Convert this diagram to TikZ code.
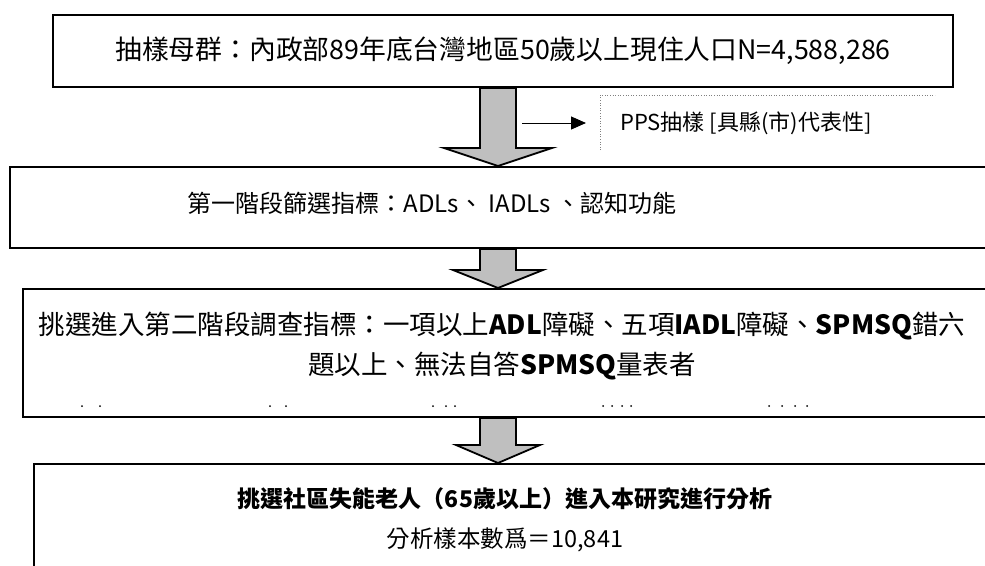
\documentclass[tikz,border=0pt]{standalone}
\usepackage{fontspec}
\setmainfont{Liberation Sans}
\newfontfamily\cjk{Noto Sans CJK TC}
\usetikzlibrary{arrows.meta, positioning, calc}

\newcommand{\fatdown}[5]{%
  \draw[fatarrow] let \p1=(#1.south), \p2=(#2.north) in
    (498pt-#3,\y1) -- (498pt-#3,\y2+#5) -- (498pt-#4,\y2+#5) -- (498pt,\y2)
    -- (498pt+#4,\y2+#5) -- (498pt+#3,\y2+#5) -- (498pt+#3,\y1) -- cycle;}

\begin{document}
\begin{tikzpicture}[
  x=1pt, y=-1pt,
  stage/.style={draw=black, line width=2pt, anchor=north west, inner sep=0pt, align=center},
  stagetext/.style={inner sep=0pt, align=center},
  fatarrow/.style={draw=black, line width=1.8pt, fill=gray!50, line join=miter},
  >={Triangle[length=15pt,width=13pt]}
]
\useasboundingbox (0,0) rectangle (985,565);
\clip (0,0) rectangle (985,565);
\fill[white] (0,0) rectangle (985,565);

\node[stage, minimum width=900pt, minimum height=72pt, font={\cjk\fontsize{26.8pt}{30pt}\selectfont}] (Population) at (52,14)
  {抽樣母群：內政部89年底台灣地區50歲以上現住人口N=4,588,286};
\node[stage, minimum width=1000pt, minimum height=81pt] (Screen) at (9,166) {};
\node[stagetext, font={\cjk\fontsize{24pt}{30pt}\selectfont}] (ScreenText) at (432,203)
  {第一階段篩選指標：ADLs、 IADLs 、認知功能};
\node[stage, minimum width=1000pt, minimum height=128pt] (Select) at (22,288) {};
\node[stagetext, font={\cjk\fontsize{26.5pt}{40pt}\selectfont}] (SelectText) at (502,346)
  {挑選進入第二階段調查指標：一項以上\textbf{ADL}障礙、五項\textbf{IADL}障礙、\textbf{SPMSQ}錯六\\題以上、無法自答\textbf{SPMSQ}量表者};
\node[stage, minimum width=1000pt, minimum height=140pt] (Sample) at (33,463) {};
\node[stagetext, font={\cjk\fontsize{23pt}{40pt}\selectfont}] (SampleText) at (505,520)
  {\textbf{挑選社區失能老人（65歲以上）進入本研究進行分析}\\{\fontsize{23.5pt}{40pt}\selectfont 分析樣本數爲＝10,841}};

\node[anchor=west, inner sep=0pt, font={\cjk\fontsize{22pt}{24pt}\selectfont}] (PPS) at (620,123) {PPS抽樣 [具縣(市)代表性]};
\draw[dotted, line width=0.6pt, gray] (600,150) -- (600,95) -- (935,95);

\fatdown{Population}{Screen}{18pt}{54pt}{18pt}
\fatdown{Screen}{Select}{18pt}{45pt}{18pt}
\fatdown{Select}{Sample}{18pt}{42pt}{18pt}

\coordinate (PPSstart) at (522,123);
\draw[->, line width=1pt] (PPSstart) -- (PPS.west) [shorten >=34pt];

\foreach \dx in {82,100,270,286,433,446,455,603,612,622,631,769,782,795,807}
  \fill (\dx,406) circle (1pt);
\end{tikzpicture}
\end{document}
